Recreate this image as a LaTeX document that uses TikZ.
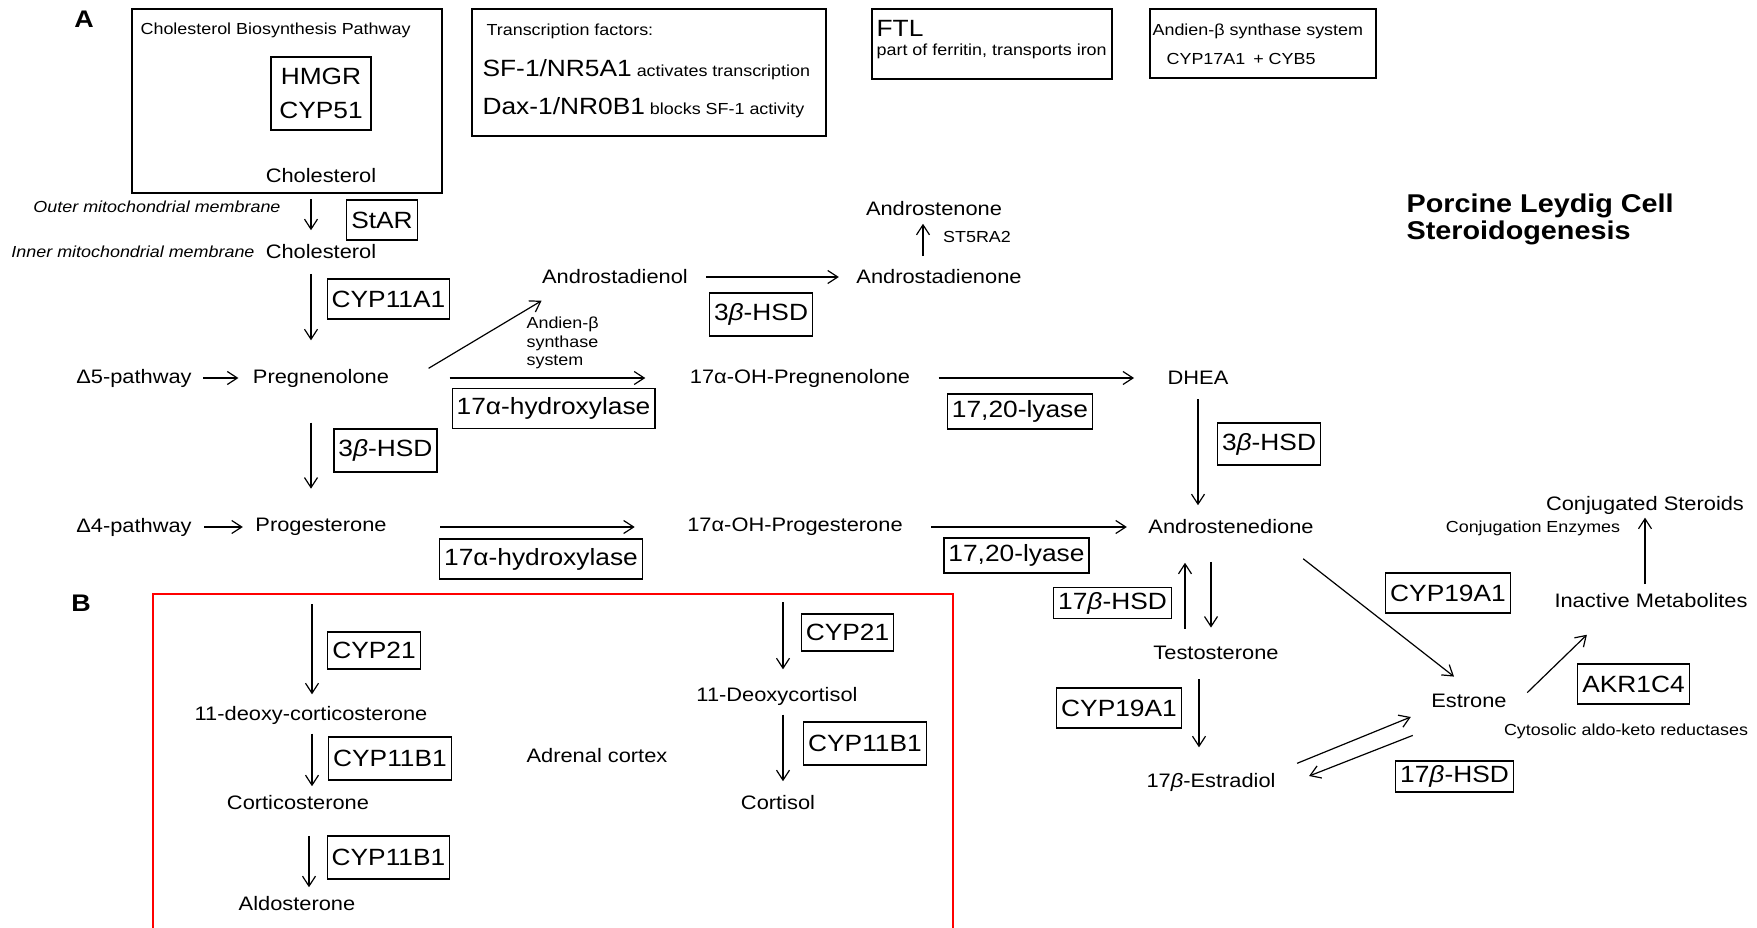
\documentclass[tikz,border=0pt]{standalone}
\usepackage{fontspec}
\setmainfont{Liberation Sans}[FakeStretch=1.12]
\usepackage{tikz}
\usetikzlibrary{arrows.meta}

\begin{document}
\begin{tikzpicture}[x=1pt, y=-1pt, ->, >={Straight Barb[length=10pt, width=13pt]}, line width=1.2pt,
    cmp/.style={inner sep=0pt, font=\fontsize{19.5}{23}\selectfont},
    enz/.style={draw, -, line width=1.3pt, inner xsep=4.5pt, inner ysep=0pt, minimum height=40pt, font=\fontsize{23.5}{28}\selectfont},
    big/.style={font=\fontsize{23.5}{34}\selectfont},
    note/.style={inner sep=0pt, font=\fontsize{16}{18.5}\selectfont},
    memb/.style={inner sep=0pt, font=\fontsize{16}{18.5}\selectfont\itshape},
    panel/.style={draw, -, line width=1.3pt, inner sep=0pt},
    part/.style={inner sep=0pt, font=\fontsize{24}{28}\selectfont\bfseries}]
    \useasboundingbox (0,0) rectangle (1757,928);

    % panel letters and title
    \node[part] (labA) at (84,19) {A};
    \node[part] (labB) at (81,603) {B};
    \node[part, align=left, anchor=north west, font=\fontsize{25.7}{26.5}\selectfont\bfseries] (title) at (1406,193.5) {Porcine Leydig Cell\\Steroidogenesis};

    % boxes along the top
    \node[panel, minimum width=310pt, minimum height=184pt] (cbpbox) at (287,101) {};
    \node[note, anchor=base west] (cbptitle) at (140,35) {Cholesterol Biosynthesis Pathway};
    \node[panel, big, align=center, minimum width=100pt, minimum height=73pt] (hmgr) at (321,93.5) {HMGR\\CYP51};
    \node[panel, minimum width=354pt, minimum height=127pt] (tfbox) at (649,72.5) {};
    \node[note, anchor=base west] (tftitle) at (486,36) {Transcription factors:};
    \node[note, anchor=base west] (sf1) at (482,76.5) {{\fontsize{23.5}{28}\selectfont SF-1/NR5A1} activates transcription};
    \node[note, anchor=base west] (dax1) at (482,115) {{\fontsize{23.5}{28}\selectfont Dax-1/NR0B1} blocks SF-1 activity};
    \node[panel, minimum width=240pt, minimum height=70pt] (ftlbox) at (992,44) {};
    \node[big, inner sep=0pt, anchor=base west] (ftl) at (876,36.5) {FTL};
    \node[note, anchor=base west] (ftlnote) at (876,56) {part of ferritin, transports iron};
    \node[panel, minimum width=226pt, minimum height=69pt] (andbox) at (1263,43.5) {};
    \node[note, anchor=base west] (andtitle) at (1152,36) {Andien-β synthase system};
    \node[note, anchor=base west] (andcyp) at (1166,65) {CYP17A1\hspace{3pt} + CYB5};

    % compounds, panel A
    \node[cmp] (chol1) at (321,176) {Cholesterol};
    \node[cmp] (chol2) [below of=chol1, node distance=76pt] {Cholesterol};
    \node[memb] (outer) at (157,207) {Outer mitochondrial membrane};
    \node[memb] (inner) at (133,252) {Inner mitochondrial membrane};
    \node[cmp] (preg) [below of=chol2, node distance=126pt] {Pregnenolone};
    \node[cmp] (prog) [below of=preg, node distance=149pt] {Progesterone};
    \node[cmp] (d5) at (134,378) {Δ5-pathway};
    \node[cmp] (d4) at (134,527) {Δ4-pathway};
    \node[cmp] (adnol) at (615,277) {Androstadienol};
    \node[cmp] (adnone) at (939,277) {Androstadienone};
    \node[cmp] (asnone) at (934,209) {Androstenone};
    \node[cmp] (ohpreg) at (800,378) {17α-OH-Pregnenolone};
    \node[cmp] (dhea) at (1198,378) {DHEA};
    \node[cmp] (ohprog) at (795,527) {17α-OH-Progesterone};
    \node[cmp] (adione) at (1231,527) {Androstenedione};
    \node[cmp] (testo) at (1216,653) {Testosterone};
    \node[cmp] (estradiol) at (1211,782) {17\textit{β}-Estradiol};
    \node[cmp] (estrone) at (1469,701) {Estrone};
    \node[cmp] (inact) at (1651,601) {Inactive Metabolites};
    \node[cmp] (conj) at (1645,505) {Conjugated Steroids};
    \node[note] (st5) at (977,237) {ST5RA2};
    \node[note, align=left, anchor=west] (andsys) at (526,343) {Andien-β\\synthase\\system};
    \node[note] (conjenz) at (1533,528) {Conjugation Enzymes};
    \node[note] (akrnote) at (1626,731) {Cytosolic aldo-keto reductases};

    % enzymes, panel A
    \node[enz] (star) at (382,220) {StAR};
    \node[enz] (cyp11a1) at (388.5,299) {CYP11A1};
    \node[enz] (hydA) at (553.5,408.5) {17α-hydroxylase};
    \node[enz, minimum height=43pt] (hsdA) at (385.5,450.5) {3\textit{β}-HSD};
    \node[enz, minimum height=43pt] (hsdB) at (761,314.5) {3\textit{β}-HSD};
    \node[enz, minimum height=35pt] (lyaseA) at (1020,411.5) {17,20-lyase};
    \node[enz, minimum height=42pt] (hsdC) at (1269,444) {3\textit{β}-HSD};
    \node[enz] (hydB) at (541,559) {17α-hydroxylase};
    \node[enz, minimum height=35pt] (lyaseB) at (1016.5,555.5) {17,20-lyase};
    \node[enz, minimum height=31pt] (hsd17A) at (1112.5,603) {17\textit{β}-HSD};
    \node[enz] (cyp19A) at (1119,708) {CYP19A1};
    \node[enz] (cyp19B) at (1448,593) {CYP19A1};
    \node[enz] (akr) at (1633.5,684) {AKR1C4};
    \node[enz, minimum height=31pt] (hsd17B) at (1454.5,776.5) {17\textit{β}-HSD};

    % panel B, adrenal cortex
    \draw[-, red, line width=1.1pt] (153,928) -- (153,594) -- (953,594) -- (953,928);
    \node[cmp] (doc) at (311,715) {11-deoxy-corticosterone};
    \node[cmp] (cort) at (298,803) {Corticosterone};
    \node[cmp] (aldo) at (297,904) {Aldosterone};
    \node[cmp] (adrenal) at (597,756) {Adrenal cortex};
    \node[cmp] (deoxycortisol) at (777,696) {11-Deoxycortisol};
    \node[cmp] (cortisol) at (778,803) {Cortisol};
    \node[enz, minimum height=37pt] (cyp21A) at (374,650.5) {CYP21};
    \node[enz, minimum height=43pt] (cyp11b1A) at (390,758.5) {CYP11B1};
    \node[enz, minimum height=43pt] (cyp11b1B) at (388.5,857.5) {CYP11B1};
    \node[enz, minimum height=37pt] (cyp21B) at (847.5,632.5) {CYP21};
    \node[enz, minimum height=43pt] (cyp11b1C) at (865,743.5) {CYP11B1};
    \coordinate (srcB1) at (312,604);
    \coordinate (srcB2) at (783,602);

    \path ([xshift=-10pt]chol1.south) edge [shorten <=15pt, shorten >=14pt] ([xshift=-10pt]chol2.north)
          ([xshift=-10pt]chol2.south) edge [shorten <=14pt, shorten >=28pt] ([xshift=-10pt]preg.north)
          ([xshift=-10pt]preg.south) edge [shorten <=35pt, shorten >=29pt] ([xshift=-10pt]prog.north)
          (d5) edge [shorten <=11pt, shorten >=14pt] (preg)
          (d4) edge [shorten <=12pt, shorten >=12pt] (prog)
          ([xshift=39pt]preg.north east) edge ([yshift=-16pt]adnol.south west)
          (preg) edge [shorten <=60pt, shorten >=44pt] (ohpreg)
          (prog) edge [shorten <=53pt, shorten >=52pt] (ohprog)
          (adnol) edge [shorten <=18pt, shorten >=17pt] (adnone)
          ([xshift=-16pt]adnone.north) edge [shorten <=13pt, shorten >=7pt] ([xshift=-11pt]asnone.south)
          (ohpreg) edge [shorten <=28pt, shorten >=33pt] (dhea)
          (ohprog) edge [shorten <=28pt, shorten >=21pt] (adione)
          (dhea.south) edge [shorten <=14pt, shorten >=14pt] (dhea.south |- adione.north)
          ([xshift=-31pt]testo.north) edge [shorten <=17pt, shorten >=28pt] ([xshift=-46pt]adione.south)
          ([xshift=-20pt]adione.south) edge [shorten <=27pt, shorten >=18pt] ([xshift=-5pt]testo.north)
          ([xshift=-17pt]testo.south) edge [shorten <=19pt, shorten >=25pt] ([xshift=-12pt]estradiol.north)
          ([xshift=-11pt, yshift=-24pt]adione.south east) edge ([xshift=-15pt, yshift=17pt]estrone.north)
          ([xshift=21pt, yshift=9pt]estradiol.north east) edge ([xshift=-20pt, yshift=-16pt]estrone.west)
          ([xshift=-18pt, yshift=-27pt]estrone.south west) edge ([xshift=33pt, yshift=6pt]estradiol.east)
          ([xshift=20pt, yshift=1pt]estrone.north east) edge ([xshift=33pt, yshift=-26pt]inact.south west)
          ([xshift=-6pt]inact.north) edge [shorten <=9pt, shorten >=3pt] (conj.south)
          (srcB1) edge [shorten >=11pt] ([xshift=1pt]doc.north)
          ([xshift=1pt]doc.south) edge [shorten <=9pt, shorten >=9pt] ([xshift=14pt]cort.north)
          ([xshift=11pt]cort.south) edge [shorten <=25pt, shorten >=9pt] ([xshift=12pt]aldo.north)
          (srcB2) edge [shorten >=17pt] ([xshift=6pt]deoxycortisol.north)
          ([xshift=6pt]deoxycortisol.south) edge [shorten <=9pt, shorten >=14pt] ([xshift=5pt]cortisol.north);
\end{tikzpicture}
\end{document}
